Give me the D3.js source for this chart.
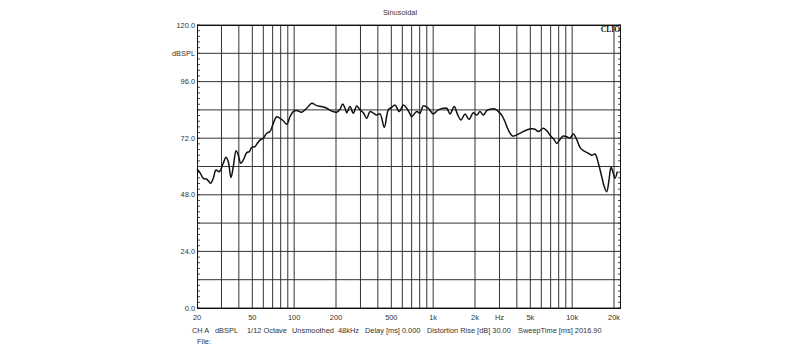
<!DOCTYPE html>
<html>
<head>
<meta charset="utf-8">
<script src="https://cdnjs.cloudflare.com/ajax/libs/d3/7.8.5/d3.min.js"></script>
<style>
  body { margin: 0; background: #fff; }
  text { font-family: Arial, "Liberation Sans", sans-serif; fill: #333; }
  .clio { font-family: "Times New Roman", "Liberation Serif", serif; font-weight: bold; fill: #111; }
</style>
</head>
<body>
<div id="canvas"></div>
<script>
// frequency response (Hz, dBSPL)
const freqs = [20, 21.0, 22.2, 23.5, 25.1, 26.2, 27.4, 28.9, 30.9, 32.3, 33.6, 35.1, 36.5, 38.2,
  39.6, 41.3, 43.1, 45.6, 47.6, 49.5, 52.3, 53.8, 56.8, 60.0, 63.5, 67.0, 70.8, 74.9, 79.1,
  83.5, 88.4, 93.3, 98.6, 104.3, 113.3, 123.1, 133.7, 145.3, 157.8, 171.5, 186.3, 202.3,
  213.7, 223.5, 232.2, 238.8, 252.2, 266.4, 281.8, 297.7, 314.5, 332.6, 351.3, 371.1, 392.5,
  414.5, 445.2, 475.7, 503.3, 531.5, 570.7, 609.9, 645.3, 681.5, 701, 761, 804, 849, 923,
  1002, 1089, 1183, 1252, 1322, 1419, 1492, 1586, 1695, 1811, 1945, 2057, 2173, 2295, 2428,
  2564, 2786, 2943, 3113, 3288, 3473, 3735, 3990, 4335, 4709, 5117, 5405, 5707, 6199, 6558,
  7007, 7402, 7741, 8175, 8636, 9135, 9650, 10190, 10781, 11390, 12030, 12850, 13820, 14600,
  15425, 16320, 17030, 17730, 18415, 19035, 19770, 20340, 21130];
const spl = [58.9, 57.4, 55.0, 54.6, 52.9, 55.0, 58.5, 57.8, 61.4, 63.9, 62.0, 55.3, 59.9, 66.7,
  64.9, 61.4, 62.8, 65.9, 66.3, 68.1, 68.4, 69.5, 71.2, 72.0, 74.1, 74.8, 78.3, 81.1, 80.4,
  79.4, 77.9, 81.1, 83.3, 83.7, 83.0, 84.7, 86.8, 85.8, 85.4, 84.7, 83.5, 83.0,
  84.3, 86.5, 84.7, 82.8, 85.4, 82.6, 85.7, 84.0, 82.8, 80.4, 83.3, 82.6, 81.8,
  82.3, 76.6, 84.0, 85.1, 86.1, 83.3, 86.1, 84.7, 82.3, 81.1, 83.3, 82.6, 85.7, 84.7,
  82.3, 84.0, 84.7, 84.7, 82.3, 85.4, 82.3, 79.7, 82.3, 80.0, 82.8, 81.8, 83.3, 81.8, 83.7,
  84.3, 84.4, 83.3, 81.8, 79.0, 75.5, 72.9, 73.4, 74.5, 75.5, 76.0, 75.8, 74.8, 76.2, 75.2,
  72.9, 71.5, 69.8, 71.5, 72.9, 72.6, 72.0, 73.8, 71.5, 68.1, 66.7, 65.9, 64.8, 65.3,
  61.4, 55.7, 51.4, 49.3, 54.3, 59.7, 57.1, 55.0, 57.8];

const yGrid = [0, 12, 24, 36, 48, 60, 72, 84, 96, 108, 120];
const yLabelValues = [0, 24, 48, 72, 96, 108, 120];
const yLabels = ["0.0", "24.0", "48.0", "72.0", "96.0", "dBSPL", "120.0"];
const xGrid = [30, 40, 50, 60, 70, 80, 90, 100, 200, 300, 400, 500, 600, 700, 800, 900,
  1000, 2000, 3000, 4000, 5000, 6000, 7000, 8000, 9000, 10000, 20000];
const xLabelValues = [20, 50, 100, 200, 500, 1000, 2000, 3000, 5000, 10000, 20000];
const xLabels = ["20", "50", "100", "200", "500", "1k", "2k", "Hz", "5k", "10k", "20k"];
const infoItems = ["CH A", "dBSPL", "1/12 Octave", "Unsmoothed", "48kHz", "Delay [ms] 0.000",
  "Distortion Rise [dB] 30.00", "SweepTime [ms] 2016.90"];
const infoX = [192, 215, 247, 292, 338, 365, 427, 518];

const w = 800;
const h = 359;
const frame = { left: 197, top: 25, right: 621, bottom: 308 };

const svg = d3.select("#canvas")
              .append("svg")
              .attr("width", w)
              .attr("height", h)

svg.append("rect")
   .attr("width", w)
   .attr("height", h)
   .style("fill", "#fff")

const x = d3.scaleLog()
            .domain([20, 20000])
            .range([frame.left, 614])

const y = d3.scaleLinear()
            .domain([0, 120])
            .range([frame.bottom, frame.top])

//grid lines
svg.append("g")
   .selectAll("line")
   .data(xGrid)
   .enter()
   .append("line")
     .attr("x1", d => x(d))
     .attr("x2", d => x(d))
     .attr("y1", frame.top)
     .attr("y2", frame.bottom)
     .style("stroke", "#333")
     .style("stroke-width", 1)

svg.append("g")
   .selectAll("line")
   .data(yGrid)
   .enter()
   .append("line")
     .attr("x1", frame.left)
     .attr("x2", frame.right)
     .attr("y1", d => y(d))
     .attr("y2", d => y(d))
     .style("stroke", "#333")
     .style("stroke-width", 1)

//minor ticks every 2.4 dB on both sides
const minor = d3.range(0, 120.01, 2.4)
svg.append("g")
   .selectAll("line")
   .data(minor)
   .enter()
   .append("line")
     .attr("x1", frame.left)
     .attr("x2", frame.left + 3)
     .attr("y1", d => y(d))
     .attr("y2", d => y(d))
     .style("stroke", "#444")
svg.append("g")
   .selectAll("line")
   .data(minor)
   .enter()
   .append("line")
     .attr("x1", frame.right - 3)
     .attr("x2", frame.right)
     .attr("y1", d => y(d))
     .attr("y2", d => y(d))
     .style("stroke", "#444")

//frame
svg.append("rect")
   .attr("x", frame.left + 0.5)
   .attr("y", frame.top + 0.5)
   .attr("width", frame.right - frame.left - 1)
   .attr("height", frame.bottom - frame.top)
   .style("fill", "none")
   .style("stroke", "#111")

//response curve
const points = freqs.map((f, i) => [f, spl[i]])
const line = d3.line()
               .x(d => x(d[0]))
               .y(d => y(d[1]))
               .curve(d3.curveCatmullRom.alpha(0.5))

svg.append("path")
   .datum(points)
   .attr("d", line)
   .style("fill", "none")
   .style("stroke", "#111")
   .style("stroke-width", 1.5)
   .style("stroke-linejoin", "round")

//labels
svg.append("g")
   .selectAll("text")
   .data(yLabelValues)
   .enter()
   .append("text")
     .attr("x", 195)
     .attr("y", d => y(d) + 2.6)
     .attr("text-anchor", "end")
     .style("font-size", "7.4px")
     .text((d, i) => yLabels[i])

svg.append("g")
   .selectAll("text")
   .data(xLabelValues)
   .enter()
   .append("text")
     .attr("x", d => x(d))
     .attr("y", 319.5)
     .attr("text-anchor", "middle")
     .style("font-size", "7.4px")
     .text((d, i) => xLabels[i])

svg.append("text")
   .attr("x", 400)
   .attr("y", 15)
   .attr("text-anchor", "middle")
   .style("font-size", "7.4px")
   .text("Sinusoidal")

svg.append("text")
   .classed("clio", true)
   .attr("x", 620)
   .attr("y", 31.5)
   .attr("text-anchor", "end")
   .style("font-size", "7.5px")
   .text("CLIO")

svg.append("g")
   .selectAll("text")
   .data(infoItems)
   .enter()
   .append("text")
     .attr("x", (d, i) => infoX[i])
     .attr("y", 332.5)
     .style("font-size", "7.4px")
     .text(d => d)

svg.append("text")
   .attr("x", 197)
   .attr("y", 344)
   .style("font-size", "7.4px")
   .text("File:")
</script>
</body>
</html>
